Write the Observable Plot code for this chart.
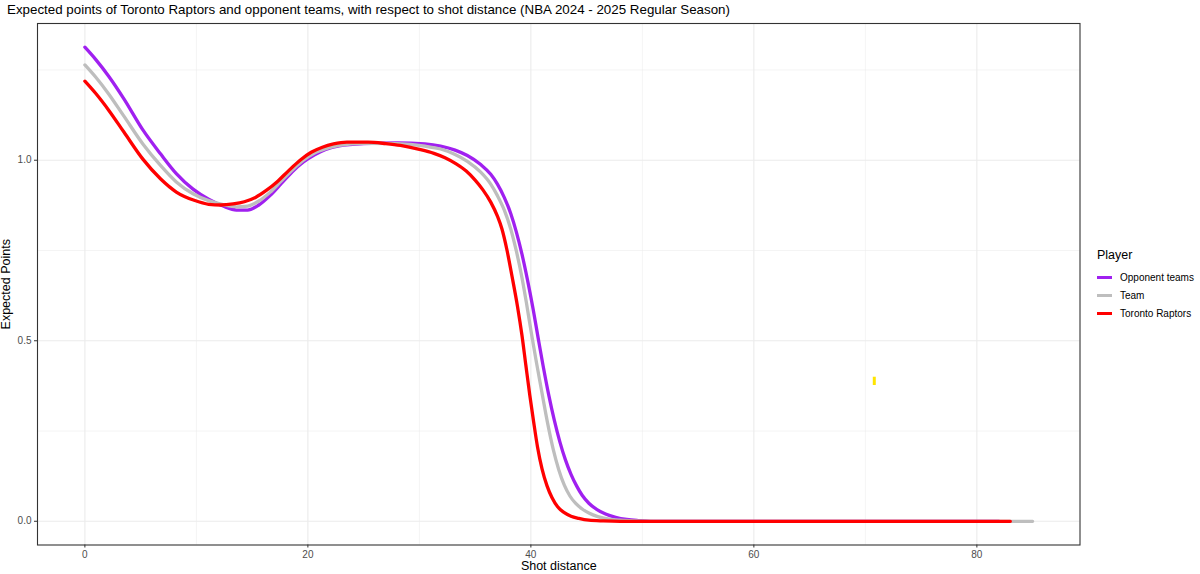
<!DOCTYPE html>
<html>
<head>
<meta charset="utf-8">
<script src="https://cdn.jsdelivr.net/npm/d3@7"></script>
<script src="https://cdn.jsdelivr.net/npm/@observablehq/plot@0.6"></script>
<style>
  html, body { margin: 0; padding: 0; background: #fff; }
  body { width: 1200px; height: 574px; position: relative; overflow: hidden; font-family: "Liberation Sans", Arial, sans-serif; }
  #title { position: absolute; left: 7px; top: 2px; font-size: 13.35px; color: #000; white-space: nowrap; }
  #chart { position: absolute; left: 0; top: 0; }
  #legend { position: absolute; left: 1097px; top: 248px; font-size: 10px; color: #000; }
  #legend .lt { font-size: 12.5px; margin-bottom: 6px; }
  #legend .row { display: flex; align-items: center; height: 18.3px; }
  #legend .key { width: 15px; height: 3px; margin-right: 8px; }
</style>
</head>
<body>
<div id="chart"></div>
<div id="title">Expected points of Toronto Raptors and opponent teams, with respect to shot distance (NBA 2024 - 2025 Regular Season)</div>
<div id="legend"></div>
<script>
// ---- Data ----
const seriesNames = ["Opponent teams", "Team", "Toronto Raptors"];
const seriesColors = ["#A020F0", "#BEBEBE", "#FF0000"];

const opponentX = [0, 1, 2.15, 3.5, 5.2, 6.8, 8.2, 9.7, 11.1, 12.4, 13.6, 14.6, 15.6, 16.6, 17.6, 18.6, 19.6, 20.6, 21.6, 22.8, 25, 28, 30.5, 31.9, 33.2, 34.3, 35.5, 36.4, 37.0, 37.6, 38.2, 38.7, 39.2, 39.7, 40.2, 40.65, 41.1, 41.6, 42.1, 42.6, 43.1, 43.6, 44.1, 44.6, 45.2, 45.9, 46.7, 47.6, 48.6, 49.6, 51, 60, 70, 82];
const opponentY = [1.313, 1.278, 1.232, 1.17, 1.084, 1.017, 0.963, 0.92, 0.892, 0.873, 0.862, 0.862, 0.876, 0.902, 0.935, 0.968, 0.995, 1.015, 1.03, 1.04, 1.046, 1.048, 1.045, 1.039, 1.028, 1.013, 0.988, 0.961, 0.934, 0.898, 0.852, 0.801, 0.74, 0.668, 0.588, 0.508, 0.43, 0.35, 0.28, 0.22, 0.17, 0.13, 0.098, 0.072, 0.05, 0.033, 0.02, 0.011, 0.005, 0.002, 0, 0, 0, 0];

const teamX = [0, 1, 2.15, 3.5, 5.2, 6.8, 8.2, 9.7, 11.1, 12.4, 13.6, 14.6, 15.6, 16.6, 17.6, 18.6, 19.6, 20.6, 21.6, 22.8, 25, 28, 30.5, 31.9, 33.2, 34.3, 35.5, 36.4, 37.0, 37.6, 38.2, 38.7, 39.2, 39.6, 40.05, 40.5, 41.0, 41.5, 42.0, 42.5, 43.0, 43.5, 44.0, 44.6, 45.2, 46, 47, 48, 49.5, 51, 60, 70, 85];
const teamY = [1.264, 1.229, 1.183, 1.122, 1.045, 0.985, 0.94, 0.907, 0.888, 0.877, 0.871, 0.873, 0.887, 0.911, 0.942, 0.973, 1.0, 1.02, 1.032, 1.041, 1.047, 1.046, 1.039, 1.031, 1.016, 0.997, 0.967, 0.934, 0.902, 0.863, 0.809, 0.748, 0.675, 0.605, 0.52, 0.44, 0.355, 0.272, 0.2, 0.143, 0.1, 0.07, 0.05, 0.034, 0.023, 0.013, 0.006, 0.003, 0.001, 0, 0, 0, 0];

const torontoX = [0, 1, 2.15, 3.5, 5.2, 6.8, 8.2, 9.8, 11.1, 12.2, 13.3, 14.3, 15.3, 16.3, 17.3, 18.3, 19.3, 20.3, 21.3, 22.3, 23.5, 25.4, 27, 28.3, 30, 31.3, 32.3, 33.3, 34.2, 35.0, 35.7, 36.4, 37.0, 37.4, 37.85, 38.3, 38.8, 39.2, 39.55, 39.9, 40.25, 40.6, 41.0, 41.45, 41.9, 42.4, 43.0, 43.6, 44.3, 45.2, 46.5, 48, 60, 70, 83];
const torontoY = [1.219, 1.184, 1.138, 1.078, 1.003, 0.948, 0.912, 0.889, 0.878, 0.876, 0.879, 0.885, 0.897, 0.917, 0.942, 0.972, 1.0, 1.022, 1.036, 1.045, 1.05, 1.05, 1.046, 1.041, 1.03, 1.019, 1.007, 0.99, 0.97, 0.945, 0.918, 0.884, 0.845, 0.81, 0.752, 0.68, 0.595, 0.515, 0.432, 0.35, 0.275, 0.205, 0.145, 0.098, 0.065, 0.04, 0.024, 0.014, 0.008, 0.003, 0.001, 0, 0, 0, 0];

const markerX = [70.8];
const markerY1 = [0.376];
const markerY2 = [0.399];

const xTicks = [0, 20, 40, 60, 80];
const xMinor = [10, 30, 50, 70];
const yTicks = [0, 0.5, 1.0];
const yMinor = [0.25, 0.75, 1.25];

// ---- Build table ----
const xs = [opponentX, teamX, torontoX];
const ys = [opponentY, teamY, torontoY];
const rows = [];
seriesNames.forEach((name, i) => {
  xs[i].forEach((x, j) => rows.push({series: name, x, y: ys[i][j]}));
});
const markers = markerX.map((x, i) => ({x, y1: markerY1[i], y2: markerY2[i]}));

const W = 1200, H = 574;
const chart = Plot.plot({
  width: W,
  height: H,
  marginTop: 23,
  marginBottom: 29.5,
  marginLeft: 37,
  marginRight: 120.5,
  style: {fontFamily: "'Liberation Sans', Arial, sans-serif", background: "#fff", overflow: "visible"},
  x: {domain: [-4.25, 89.25]},
  y: {domain: [-0.0657, 1.3787]},
  color: {domain: seriesNames, range: seriesColors},
  marks: [
    Plot.gridX(xMinor, {stroke: "#EBEBEB", strokeOpacity: 1, strokeWidth: 0.55}),
    Plot.gridY(yMinor, {stroke: "#EBEBEB", strokeOpacity: 1, strokeWidth: 0.55}),
    Plot.gridX(xTicks, {stroke: "#EBEBEB", strokeOpacity: 1, strokeWidth: 1.1}),
    Plot.gridY(yTicks, {stroke: "#EBEBEB", strokeOpacity: 1, strokeWidth: 1.1}),
    Plot.line(rows, {x: "x", y: "y", z: "series", stroke: "series", strokeWidth: 3.3, curve: "monotone-x"}),
    Plot.ruleX(markers, {x: "x", y1: "y1", y2: "y2", stroke: "#FFE500", strokeWidth: 3}),
    Plot.frame({stroke: "#333333", strokeWidth: 1.1}),
    Plot.axisX(xTicks, {tickSize: 3, tickPadding: 3, fontSize: 10, color: "#4D4D4D", stroke: "#333333", label: null}),
    Plot.axisY(yTicks, {tickSize: 3, tickPadding: 3, fontSize: 10, color: "#4D4D4D", stroke: "#333333", tickFormat: d3.format(".1f"), label: null}),
    Plot.text(["Shot distance"], {frameAnchor: "bottom", dy: 25, fontSize: 12.5, fill: "#000", lineAnchor: "bottom", textAnchor: "middle"}),
    Plot.text(["Expected Points"], {frameAnchor: "left", dx: -32, rotate: -90, fontSize: 12.5, fill: "#000", textAnchor: "middle"})
  ]
});
document.getElementById("chart").appendChild(chart);

// ---- Legend ----
const legend = document.getElementById("legend");
const lt = document.createElement("div");
lt.className = "lt";
lt.textContent = "Player";
legend.appendChild(lt);
seriesNames.forEach((name, i) => {
  const row = document.createElement("div");
  row.className = "row";
  const key = document.createElement("div");
  key.className = "key";
  key.style.background = seriesColors[i];
  const lab = document.createElement("span");
  lab.textContent = name;
  row.appendChild(key);
  row.appendChild(lab);
  legend.appendChild(row);
});
</script>
</body>
</html>
